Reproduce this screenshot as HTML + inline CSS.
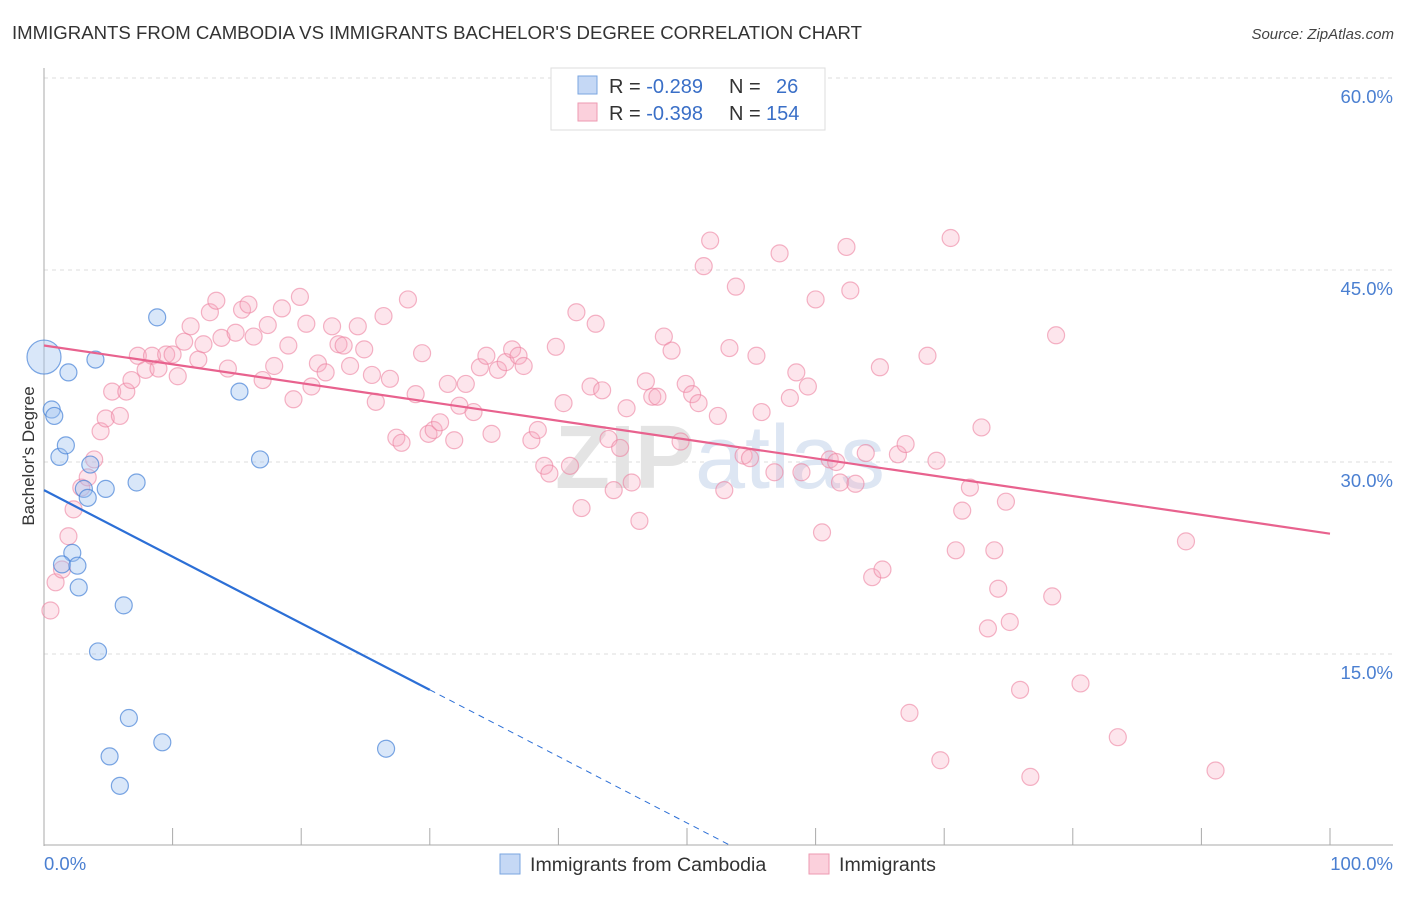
<!DOCTYPE html>
<html><head><meta charset="utf-8"><style>
body{margin:0;background:#fff;font-family:"Liberation Sans",sans-serif;}
svg text{font-family:"Liberation Sans",sans-serif;}
</style></head><body>
<svg id="chart" width="1406" height="892" xmlns="http://www.w3.org/2000/svg">
<text x="12" y="39" font-size="18.6" fill="#333">IMMIGRANTS FROM CAMBODIA VS IMMIGRANTS BACHELOR'S DEGREE CORRELATION CHART</text>
<text x="1394" y="39" font-size="15" fill="#444" font-style="italic" text-anchor="end">Source: ZipAtlas.com</text>
<g id="grid"></g>
<text x="720" y="488" font-size="90" fill="#e4e4e4" text-anchor="middle" font-family="Liberation Serif"><tspan font-weight="bold">ZIP</tspan><tspan fill="#dde6f3" font-family="Liberation Sans">atlas</tspan></text>
<g id="axes"></g>
<g id="pinkPts"></g>
<g id="bluePts"></g>
<g id="lines"></g>
<text transform="translate(34,456) rotate(-90)" font-size="17" fill="#333" text-anchor="middle">Bachelor's Degree</text>
<g>
<rect x="551" y="68" width="274" height="62" fill="#fff" stroke="#ddd"/>
<rect x="578" y="76" width="19" height="18" fill="#c5d8f5" stroke="#7aa6e0"/>
<rect x="578" y="103" width="19" height="18" fill="#fbd0dc" stroke="#ee9ab2"/>
<text x="609" y="93" font-size="20" fill="#333">R = <tspan fill="#3a6fc7">-0.289</tspan><tspan x="729">N =</tspan><tspan x="776" fill="#3a6fc7">26</tspan></text>
<text x="609" y="120" font-size="20" fill="#333">R = <tspan fill="#3a6fc7">-0.398</tspan><tspan x="729">N =</tspan><tspan x="766" fill="#3a6fc7">154</tspan></text>
</g>
<g>
<rect x="500" y="854" width="20" height="20" fill="#c5d8f5" stroke="#7aa6e0"/>
<text x="530" y="871" font-size="19.6" fill="#333">Immigrants from Cambodia</text>
<rect x="809" y="854" width="20" height="20" fill="#fbd0dc" stroke="#ee9ab2"/>
<text x="839" y="871" font-size="19.6" fill="#333">Immigrants</text>
</g>
</svg>
<script>
const yTicks=[15,30,45,60];
const yTickLabels=["15.0%","30.0%","45.0%","60.0%"];
const xTickLabels=["0.0%","100.0%"];
const blueX=[0,8.8,4.0,1.9,0.6,0.8,15.2,1.2,1.7,16.8,3.6,4.8,7.2,3.1,3.4,2.2,1.4,2.6,2.7,6.2,4.2,6.6,9.2,5.1,5.9,26.6];
const blueY=[38.2,41.3,38.0,37.0,34.1,33.6,35.5,30.4,31.3,30.2,29.8,27.9,28.4,27.9,27.2,22.9,22.0,21.9,20.2,18.8,15.2,10.0,8.1,7.0,4.7,7.6];
const pinkX=[0.5,0.9,1.4,1.9,2.3,2.9,3.4,3.9,4.4,4.8,5.3,5.9,6.4,6.8,7.3,7.9,8.4,8.9,9.5,10.0,10.4,10.9,11.4,12.0,12.4,12.9,13.4,13.8,14.3,14.9,15.4,15.9,16.3,17.0,17.4,17.9,18.5,19.0,19.4,19.9,20.4,20.8,21.3,21.9,22.4,22.9,23.3,23.8,24.4,24.9,25.5,25.8,26.4,26.9,27.4,27.8,28.3,28.9,29.4,29.9,30.3,30.8,31.4,31.9,32.3,32.8,33.4,33.9,34.4,34.8,35.3,35.9,36.4,36.9,37.3,37.9,38.4,38.9,39.3,39.8,40.4,40.9,41.4,41.8,42.5,42.9,43.4,43.9,44.3,44.8,45.3,45.7,46.3,46.8,47.3,47.7,48.2,48.8,49.5,49.9,50.4,50.9,51.3,51.8,52.4,52.9,53.3,53.8,54.4,54.9,55.4,55.8,56.8,57.2,58.0,58.5,58.9,59.4,60.0,60.5,61.1,61.6,61.9,62.4,62.7,63.1,63.9,64.4,65.0,65.2,66.4,67.0,67.3,68.7,69.4,69.7,70.5,70.9,71.4,72.0,72.9,73.4,73.9,74.2,74.8,75.1,75.9,76.7,78.4,78.7,80.6,83.5,88.8,91.1];
const pinkY=[18.4,20.6,21.6,24.2,26.3,28.0,28.8,30.2,32.4,33.4,35.5,33.6,35.5,36.4,38.3,37.2,38.3,37.3,38.4,38.4,36.7,39.4,40.6,38.0,39.2,41.7,42.6,39.7,37.3,40.1,41.9,42.3,39.8,36.4,40.7,37.5,42.0,39.1,34.9,42.9,40.8,35.9,37.7,37.0,40.6,39.2,39.1,37.5,40.6,38.8,36.8,34.7,41.4,36.5,31.9,31.5,42.7,35.3,38.5,32.2,32.5,33.1,36.1,31.7,34.4,36.1,33.9,37.4,38.3,32.2,37.2,37.8,38.8,38.3,37.5,31.7,32.5,29.7,29.1,39.0,34.6,29.7,41.7,26.4,35.9,40.8,35.6,31.8,27.8,31.1,34.2,28.4,25.4,36.3,35.1,35.1,39.8,38.7,31.6,36.1,35.3,34.6,45.3,47.3,33.6,27.8,38.9,43.7,30.5,30.3,38.3,33.9,29.2,46.3,35.0,37.0,29.2,35.9,42.7,24.5,30.2,30.0,28.4,46.8,43.4,28.3,30.7,21.0,37.4,21.6,30.6,31.4,10.4,38.3,30.1,6.7,47.5,23.1,26.2,28.0,32.7,17.0,23.1,20.1,26.9,17.5,12.2,5.4,19.5,39.9,12.7,8.5,23.8,5.9];
const pinkTrend=[39.1,24.4];   // value at x=0, x=100
const blueTrend=[27.8,-0.52];  // intercept, slope
const X0=44,X1=1330,Y0=846,YS=12.8;
const sx=v=>X0+(X1-X0)*v/100, sy=v=>Y0-v*YS;
const NS="http://www.w3.org/2000/svg";
function mk(tag,attrs,parent){const e=document.createElementNS(NS,tag);for(const k in attrs)e.setAttribute(k,attrs[k]);parent.appendChild(e);return e;}
const grid=document.getElementById('grid'),axes=document.getElementById('axes');
yTicks.forEach((t,i)=>{
 const l=mk('line',{x1:X0,x2:1393,y1:sy(t),y2:sy(t),stroke:'#ddd','stroke-dasharray':'4,4'},grid);
 
 
 const tx=mk('text',{x:1393,y:sy(t)+25,'font-size':18.5,fill:'#4a7fd1','text-anchor':'end'},axes);
 tx.textContent=yTickLabels[i];
 
 
});
let al=mk('line',{x1:X0,x2:X0,y1:68,y2:846,stroke:'#aaa'},axes);


let bl=mk('line',{x1:X0,x2:1393,y1:845,y2:845,stroke:'#aaa'},axes);


for(let i=1;i<=10;i++){
 const t=mk('line',{x1:sx(i*10),x2:sx(i*10),y1:828,y2:845,stroke:'#aaa'},axes);
 
 
}
const xl0=mk('text',{x:44,y:870,'font-size':18.5,fill:'#4a7fd1'},axes);xl0.textContent=xTickLabels[0];


const xl1=mk('text',{x:1393,y:870,'font-size':18.5,fill:'#4a7fd1','text-anchor':'end'},axes);xl1.textContent=xTickLabels[1];


const pg=document.getElementById('pinkPts');
pinkX.forEach((x,i)=>{
 const c=mk('circle',{cx:sx(x),cy:sy(pinkY[i]),r:8.5,fill:'rgba(247,170,192,0.3)',stroke:'rgba(236,130,160,0.6)','stroke-width':1.2},pg);
 
 
});
const bg=document.getElementById('bluePts');
blueX.forEach((x,i)=>{
 const c=mk('circle',{cx:sx(x),cy:sy(blueY[i]),r:i===0?17:8.5,fill:'rgba(160,195,240,0.4)',stroke:'rgba(70,130,215,0.7)','stroke-width':1.2},bg);
 
 
});
const lg=document.getElementById('lines');
const pl=mk('line',{x1:sx(0),y1:sy(pinkTrend[0]),x2:sx(100),y2:sy(pinkTrend[1]),stroke:'#e8628e','stroke-width':2.2},lg);


const bv=x=>blueTrend[0]+blueTrend[1]*x;
const bsol=mk('line',{x1:sx(0),y1:sy(bv(0)),x2:sx(30),y2:sy(bv(30)),stroke:'#2c6fd6','stroke-width':2.2},lg);


const xEnd=-blueTrend[0]/blueTrend[1];
const bd=mk('line',{x1:sx(30),y1:sy(bv(30)),x2:sx(xEnd),y2:sy(0),stroke:'#2c6fd6','stroke-width':1,'stroke-dasharray':'6,5'},lg);


</script>
</body></html>
